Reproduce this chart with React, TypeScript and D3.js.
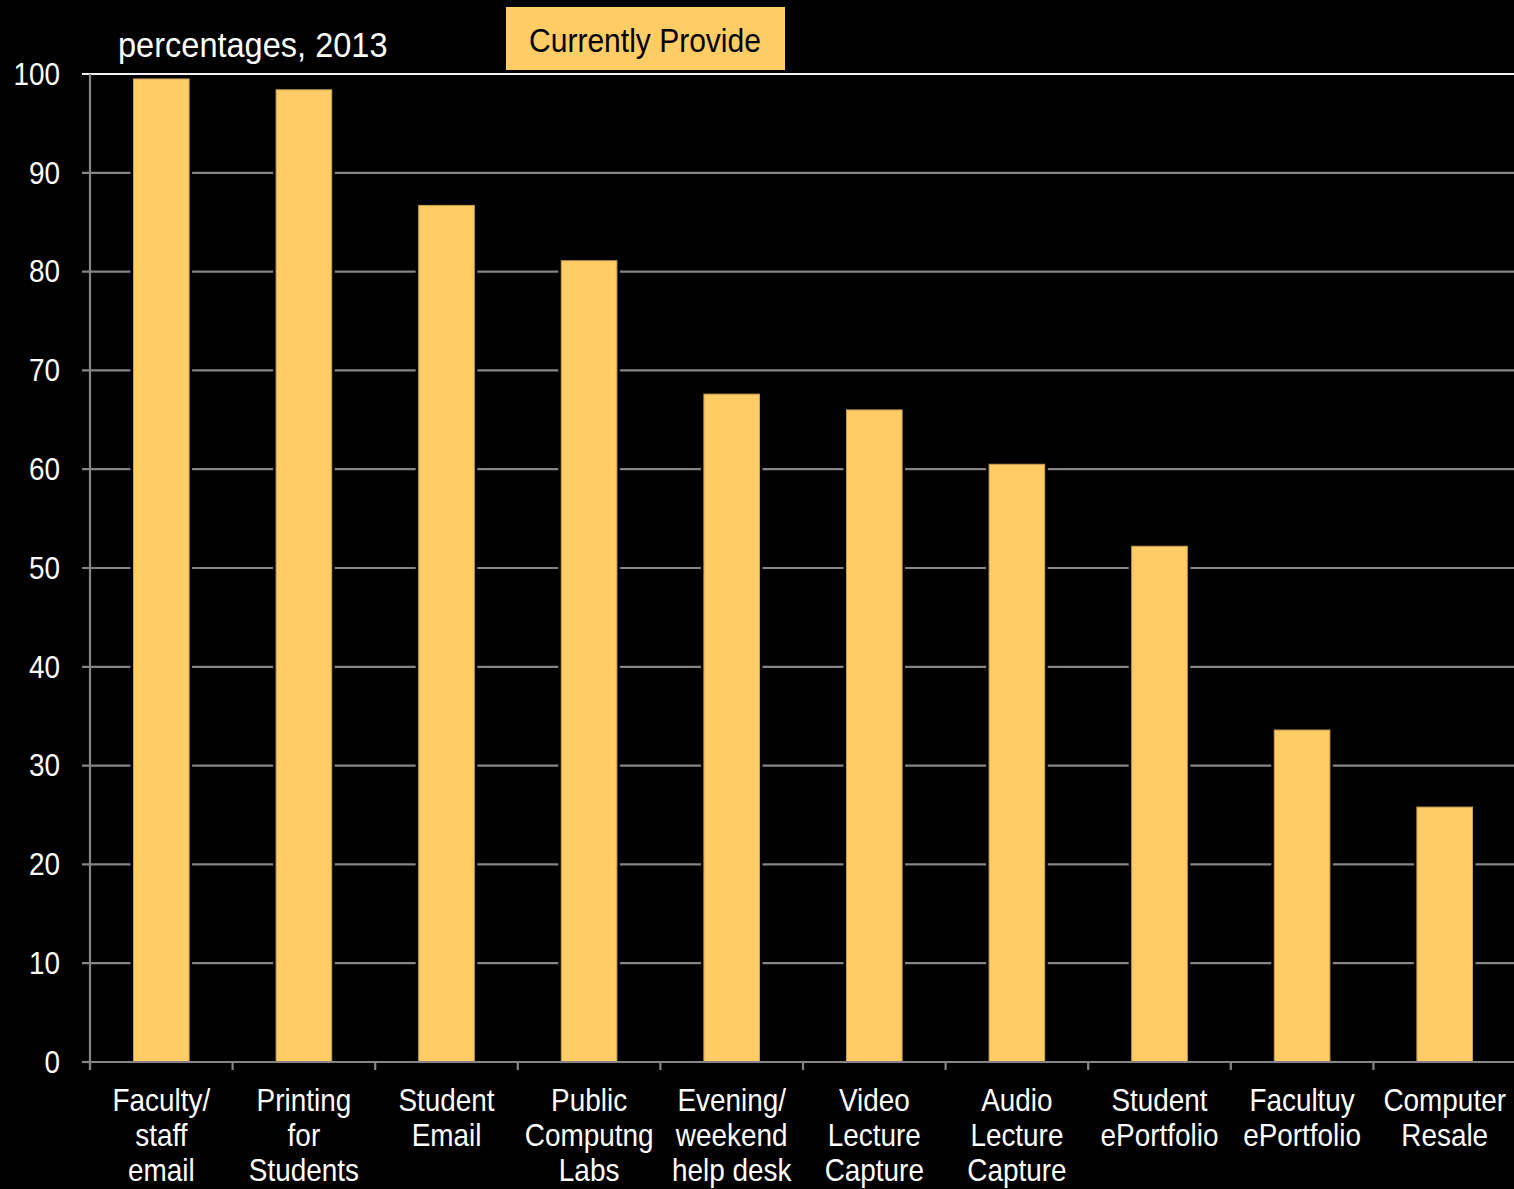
import React from "react";
import * as d3 from "d3";

const categories: string[][] = [
  ["Faculty/", "staff", "email"],
  ["Printing", "for", "Students"],
  ["Student", "Email"],
  ["Public", "Computng", "Labs"],
  ["Evening/", "weekend", "help desk"],
  ["Video", "Lecture", "Capture"],
  ["Audio", "Lecture", "Capture"],
  ["Student", "ePortfolio"],
  ["Facultuy", "ePortfolio"],
  ["Computer", "Resale"],
];
const values: number[] = [99.5, 98.4, 86.7, 81.1, 67.6, 66.0, 60.5, 52.2, 33.6, 25.8];
const yTicks: number[] = [0, 10, 20, 30, 40, 50, 60, 70, 80, 90, 100];
const seriesName = "Currently Provide";
const titleText = "percentages, 2013";

const W = 1514;
const H = 1189;
const FONT = "'Liberation Sans Narrow', 'Arial Narrow', 'Liberation Sans', Arial, sans-serif";

function NText(props: {
  x: number;
  y: number;
  size: number;
  sx: number;
  anchor?: string;
  fill: string;
  lines: string[];
  lh?: number;
  dy?: string;
}) {
  const { x, y, size, sx, anchor = "start", fill, lines, lh = 0, dy } = props;
  return (
    <text
      transform={`translate(${x},${y}) scale(${sx},1)`}
      textAnchor={anchor}
      fill={fill}
      fontFamily={FONT}
      fontSize={size}
    >
      {lines.map((l, j) => (
        <tspan key={j} x={0} y={j * lh} dy={dy}>
          {l}
        </tspan>
      ))}
    </text>
  );
}

export default function App() {
  const left = 90;
  const right = 1516;
  const top = 74;
  const bottom = 1062;
  const idx = categories.map((_, i) => String(i));
  const x = d3.scaleBand<string>().domain(idx).range([left, right]).paddingInner(0.61).paddingOuter(0.305);
  const xb = d3.scaleBand<string>().domain(idx).range([left, right]).padding(0);
  const y = d3.scaleLinear().domain([0, 100]).range([bottom, top]);
  const bw = x.bandwidth();
  const grid = "#858585";

  return (
    <svg width={W} height={H} style={{ position: "absolute", left: 0, top: 0, background: "#000" }}>
      <rect x={0} y={0} width={W} height={H} fill="#000" />
      {yTicks.filter((t) => t > 0 && t < 100).map((t) => (
        <line key={t} x1={left - 8} x2={W} y1={y(t)} y2={y(t)} stroke={grid} strokeWidth={2.2} />
      ))}
      <line x1={left - 8} x2={W} y1={y(100)} y2={y(100)} stroke="#f2f2f2" strokeWidth={2.2} />
      {values.map((v, i) => (
        <g key={i}>
          <rect x={(x(String(i)) as number) - 3} y={y(v) - 3} width={bw + 6} height={bottom - y(v) + 3} fill="#000" />
          <rect x={x(String(i)) as number} y={y(v)} width={bw} height={bottom - y(v)} fill="#FFCC66" stroke="#C9A052" strokeWidth={1} />
        </g>
      ))}
      <line x1={left} x2={left} y1={top} y2={bottom + 8} stroke={grid} strokeWidth={2.2} />
      <line x1={left - 8} x2={left} y1={bottom} y2={bottom} stroke={grid} strokeWidth={2.2} />
      <line x1={left} x2={W} y1={bottom} y2={bottom} stroke={grid} strokeWidth={2.2} />
      {idx.map((k) => (
        <line key={k} x1={xb(k) as number} x2={xb(k) as number} y1={bottom} y2={bottom + 8} stroke={grid} strokeWidth={2.2} />
      ))}
      {yTicks.map((t) => (
        <NText key={t} x={60} y={y(t)} dy="0.35em" anchor="end" fill="#fff" size={31} sx={0.9} lines={[String(t)]} />
      ))}
      {categories.map((lines, i) => (
        <NText
          key={i}
          x={(xb(String(i)) as number) + xb.bandwidth() / 2}
          y={1111}
          lh={35}
          anchor="middle"
          fill="#fff"
          size={31}
          sx={0.9}
          lines={lines}
        />
      ))}
      <NText x={118} y={57} fill="#fff" size={35} sx={0.93} lines={[titleText]} />
      <rect x={506} y={7} width={279} height={63} fill="#FFCC66" />
      <NText x={645} y={52} anchor="middle" fill="#000" size={33} sx={0.91} lines={[seriesName]} />
    </svg>
  );
}
